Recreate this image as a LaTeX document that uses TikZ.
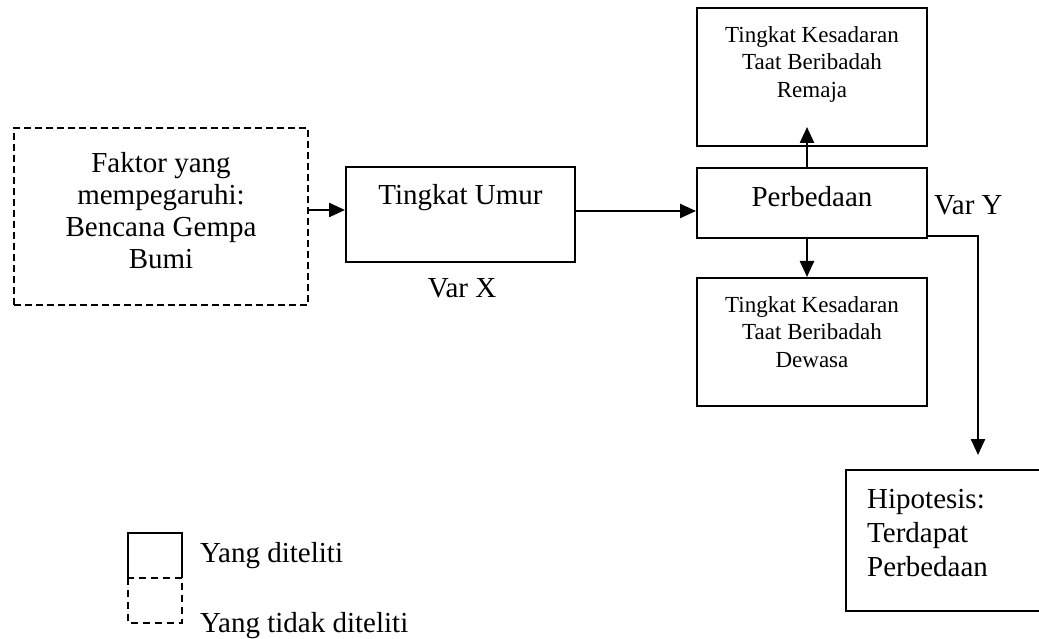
\documentclass[tikz,border=0pt]{standalone}
\usepackage{fontspec}
\setmainfont{Liberation Serif}
\usetikzlibrary{arrows.meta,calc}
\begin{document}
\begin{tikzpicture}[x=1pt,y=-1pt,
  box/.style={draw, line width=2pt, inner sep=0pt},
  dbox/.style={box, dash pattern=on 7pt off 4pt},
  big/.style={font=\fontsize{29}{32}\selectfont, inner sep=0pt},
  small/.style={font=\fontsize{23}{27.5}\selectfont, inner sep=0pt, align=center},
  arr/.style={line width=2.4pt, -{Triangle[length=16pt,width=14pt]}}]
\clip (0,0) rectangle (1039,639);
\fill[white] (0,0) rectangle (1039,639);

% boxes
\node[dbox, minimum width=294pt, minimum height=177pt] (faktor) at (161,216.5) {};
\node[box, minimum width=229pt, minimum height=95pt] (umur) at (460.5,214.5) {};
\node[box, minimum width=230pt, minimum height=70pt] (perb) at (812,203) {};
\node[box, minimum width=230pt, minimum height=138pt] (remaja) at (812,77) {};
\node[box, minimum width=230pt, minimum height=128pt] (dewasa) at (812,342) {};
\node[box, minimum width=224pt, minimum height=141pt] (hip) at (958,540.5) {};

% texts
\node[big, anchor=north, align=center] (faktorT) at (161,152.2) {Faktor yang\\mempegaruhi:\\Bencana Gempa\\Bumi};
\node[big, anchor=base] (umurT) at (460.5,205) {Tingkat Umur};
\node[big, anchor=base] (varX) at (462,297) {Var X};
\node[big, anchor=base] (perbT) at (812,207) {Perbedaan};
\node[big, anchor=base west] (varY) at (934,215) {Var Y};
\node[small, anchor=north] (remT) at (812,26.3) {Tingkat Kesadaran\\Taat Beribadah\\Remaja};
\node[small, anchor=north] (dewT) at (812,296.3) {Tingkat Kesadaran\\Taat Beribadah\\Dewasa};
\node[big, font=\fontsize{29}{34}\selectfont, anchor=north west, align=left] (hipT) at (867,489) {Hipotesis:\\Terdapat\\Perbedaan};

% connectors
\coordinate (r1) at (0,210);
\coordinate (r2) at (0,211);
\coordinate (c1) at (807,0);
\coordinate (upTip) at (807,127);
\coordinate (hTip) at (978,455);
\draw[arr] (faktor.east |- r1) -- (umur.west |- r1);
\draw[arr] (umur.east |- r2) -- (perb.west |- r2);
\draw[arr] (perb.north -| c1) -- (upTip);
\draw[arr] (perb.south -| c1) -- (dewasa.north -| c1);
\draw[arr] ($(perb.south east)+(0,-3)$) -| (hTip);

% legend
\draw[line width=2pt] (128,578) |- (182,533) -- (182,578);
\draw[line width=2pt, dash pattern=on 7pt off 5pt] (128,578) rectangle (182,623);
\node[big, anchor=base west] (legA) at (200,562) {Yang diteliti};
\node[big, anchor=base west] (legB) at (200,632) {Yang tidak diteliti};
\end{tikzpicture}
\end{document}
